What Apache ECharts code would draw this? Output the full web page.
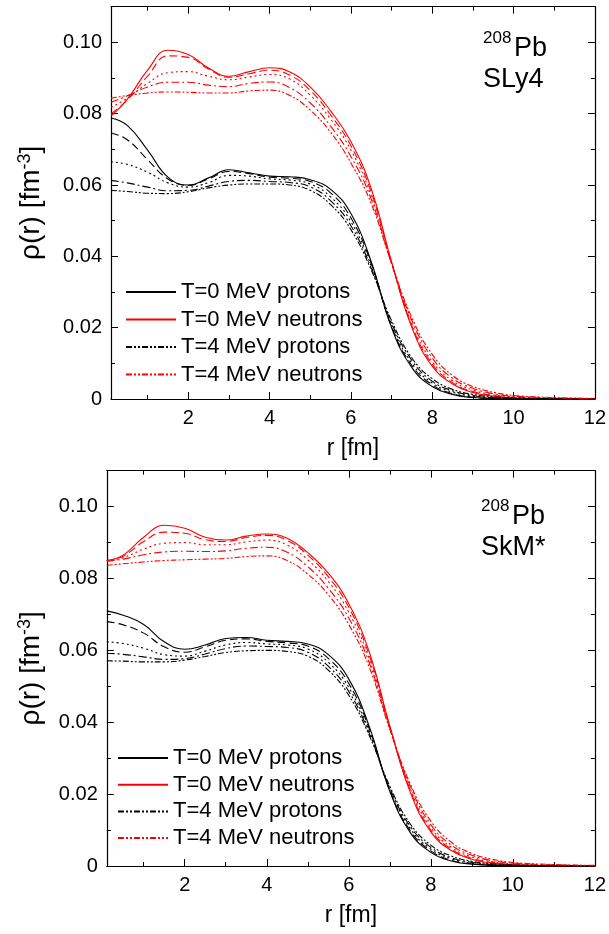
<!DOCTYPE html>
<html>
<head>
<meta charset="utf-8">
<script src="https://cdn.jsdelivr.net/npm/echarts@6/dist/echarts.min.js"></script>
<style>
  html, body { margin: 0; padding: 0; background: #fff; }
  #chart { width: 609px; height: 934px; }
</style>
</head>
<body>
<div id="chart"></div>
<script>
// radial grid (fm)
const r = [0.1, 0.5, 1, 1.5, 2, 2.5, 3, 3.5, 4, 4.5, 5, 5.5, 6, 6.5, 7, 7.5, 8, 8.5, 9, 9.5, 10, 11, 12];

// SLy4 neutrons, T = 0..4 MeV
const sly4N0 = [0.0793, 0.0840, 0.0922, 0.0978, 0.0966, 0.0928, 0.0905, 0.0918, 0.0929, 0.0917, 0.0875, 0.0808, 0.0722, 0.0590, 0.0385, 0.0200, 0.0092, 0.0042, 0.0018, 0.0008, 0.0003, 0.0001, 0.0000];
const sly4N1 = [0.0800, 0.0838, 0.0905, 0.0962, 0.0958, 0.0925, 0.0902, 0.0912, 0.0922, 0.0908, 0.0865, 0.0797, 0.0710, 0.0580, 0.0383, 0.0205, 0.0098, 0.0046, 0.0021, 0.0010, 0.0004, 0.0001, 0.0000];
const sly4N2 = [0.0818, 0.0843, 0.0885, 0.0915, 0.0918, 0.0905, 0.0895, 0.0903, 0.0910, 0.0897, 0.0852, 0.0785, 0.0698, 0.0570, 0.0380, 0.0210, 0.0105, 0.0051, 0.0025, 0.0012, 0.0006, 0.0002, 0.0001];
const sly4N3 = [0.0832, 0.0850, 0.0875, 0.0888, 0.0888, 0.0880, 0.0876, 0.0885, 0.0889, 0.0873, 0.0830, 0.0765, 0.0680, 0.0560, 0.0380, 0.0220, 0.0115, 0.0058, 0.0030, 0.0015, 0.0008, 0.0003, 0.0001];
const sly4N4 = [0.0843, 0.0851, 0.0858, 0.0861, 0.0860, 0.0858, 0.0858, 0.0864, 0.0866, 0.0851, 0.0810, 0.0748, 0.0662, 0.0548, 0.0380, 0.0228, 0.0125, 0.0066, 0.0035, 0.0019, 0.0010, 0.0004, 0.0002];

// SLy4 protons
const sly4P0 = [0.0788, 0.0767, 0.0698, 0.0622, 0.0600, 0.0620, 0.0643, 0.0634, 0.0625, 0.0623, 0.0615, 0.0588, 0.0520, 0.0385, 0.0200, 0.0088, 0.0035, 0.0013, 0.0004, 0.0001, 0.0000, 0.0000, 0.0000];
const sly4P1 = [0.0746, 0.0727, 0.0671, 0.0617, 0.0599, 0.0617, 0.0638, 0.0632, 0.0622, 0.0619, 0.0610, 0.0578, 0.0508, 0.0380, 0.0203, 0.0094, 0.0040, 0.0015, 0.0005, 0.0002, 0.0001, 0.0000, 0.0000];
const sly4P2 = [0.0665, 0.0658, 0.0636, 0.0606, 0.0594, 0.0607, 0.0627, 0.0625, 0.0617, 0.0614, 0.0603, 0.0567, 0.0497, 0.0373, 0.0208, 0.0100, 0.0045, 0.0019, 0.0008, 0.0003, 0.0001, 0.0000, 0.0000];
const sly4P3 = [0.0613, 0.0606, 0.0594, 0.0584, 0.0585, 0.0597, 0.0610, 0.0613, 0.0610, 0.0607, 0.0595, 0.0556, 0.0486, 0.0367, 0.0213, 0.0108, 0.0050, 0.0023, 0.0010, 0.0004, 0.0002, 0.0001, 0.0000];
const sly4P4 = [0.0585, 0.0582, 0.0577, 0.0576, 0.0581, 0.0592, 0.0600, 0.0603, 0.0603, 0.0600, 0.0585, 0.0545, 0.0475, 0.0362, 0.0220, 0.0115, 0.0057, 0.0027, 0.0013, 0.0006, 0.0003, 0.0001, 0.0000];

// SkM* neutrons
const skmN0 = [0.0850, 0.0865, 0.0915, 0.0948, 0.0940, 0.0915, 0.0907, 0.0918, 0.0924, 0.0912, 0.0872, 0.0815, 0.0730, 0.0595, 0.0390, 0.0205, 0.0095, 0.0043, 0.0019, 0.0008, 0.0003, 0.0001, 0.0000];
const skmN1 = [0.0850, 0.0862, 0.0903, 0.0929, 0.0926, 0.0908, 0.0903, 0.0914, 0.0920, 0.0906, 0.0865, 0.0805, 0.0720, 0.0586, 0.0388, 0.0210, 0.0100, 0.0047, 0.0021, 0.0010, 0.0004, 0.0001, 0.0000];
const skmN2 = [0.0850, 0.0858, 0.0882, 0.0898, 0.0900, 0.0894, 0.0894, 0.0902, 0.0907, 0.0893, 0.0852, 0.0792, 0.0706, 0.0576, 0.0385, 0.0215, 0.0107, 0.0052, 0.0025, 0.0012, 0.0006, 0.0002, 0.0001];
const skmN3 = [0.0848, 0.0854, 0.0866, 0.0874, 0.0876, 0.0875, 0.0877, 0.0884, 0.0887, 0.0873, 0.0833, 0.0773, 0.0690, 0.0565, 0.0383, 0.0222, 0.0115, 0.0058, 0.0030, 0.0015, 0.0008, 0.0003, 0.0001];
const skmN4 = [0.0837, 0.0841, 0.0846, 0.0850, 0.0852, 0.0854, 0.0856, 0.0861, 0.0863, 0.0850, 0.0812, 0.0755, 0.0672, 0.0553, 0.0380, 0.0228, 0.0125, 0.0066, 0.0035, 0.0019, 0.0010, 0.0004, 0.0002];

// SkM* protons
const skmP0 = [0.0710, 0.0698, 0.0672, 0.0624, 0.0603, 0.0615, 0.0633, 0.0636, 0.0628, 0.0625, 0.0618, 0.0588, 0.0520, 0.0388, 0.0208, 0.0093, 0.0038, 0.0014, 0.0005, 0.0002, 0.0001, 0.0000, 0.0000];
const skmP1 = [0.0680, 0.0671, 0.0648, 0.0610, 0.0595, 0.0610, 0.0628, 0.0632, 0.0625, 0.0621, 0.0612, 0.0578, 0.0508, 0.0382, 0.0210, 0.0098, 0.0042, 0.0016, 0.0006, 0.0002, 0.0001, 0.0000, 0.0000];
const skmP2 = [0.0624, 0.0619, 0.0606, 0.0588, 0.0584, 0.0598, 0.0615, 0.0622, 0.0618, 0.0615, 0.0604, 0.0567, 0.0497, 0.0375, 0.0213, 0.0104, 0.0047, 0.0020, 0.0008, 0.0003, 0.0001, 0.0000, 0.0000];
const skmP3 = [0.0592, 0.0589, 0.0582, 0.0575, 0.0577, 0.0590, 0.0605, 0.0612, 0.0611, 0.0608, 0.0595, 0.0556, 0.0486, 0.0369, 0.0217, 0.0110, 0.0052, 0.0023, 0.0010, 0.0004, 0.0002, 0.0001, 0.0000];
const skmP4 = [0.0571, 0.0570, 0.0568, 0.0568, 0.0573, 0.0583, 0.0594, 0.0599, 0.0600, 0.0597, 0.0584, 0.0545, 0.0475, 0.0363, 0.0222, 0.0117, 0.0058, 0.0028, 0.0013, 0.0006, 0.0003, 0.0001, 0.0000];

// tick labels
const xMajor = [2, 4, 6, 8, 10, 12];
const xMinor = [1, 3, 5, 7, 9, 11];
const yMajor = [0, 0.02, 0.04, 0.06, 0.08, 0.10];
const yMinor = [0.01, 0.03, 0.05, 0.07, 0.09];

const legendNames = ['T=0 MeV protons', 'T=0 MeV neutrons', 'T=4 MeV protons', 'T=4 MeV neutrons'];

const FONT = '"Liberation Sans", Arial, sans-serif';
const dashes = ['solid', [8, 4], [2, 3], [8, 3, 2, 3], [6, 2, 2, 2, 2, 2]];

const chart = echarts.init(document.getElementById('chart'));

const grids = [
  { left: 111, right: 11.7, top: 6.7, height: 392.3 },
  { left: 106.8, right: 12.3, top: 470.7, height: 395.3 }
];

const axisLine = { show: true, onZero: false, lineStyle: { color: '#000', width: 1.2 } };
const noLine = { show: false, onZero: false };

function xAxes(g) {
  const base = { gridIndex: g, type: 'value', min: 0.1, max: 12, splitLine: { show: false } };
  return [
    {
      ...base, position: 'bottom', axisLine,
      axisTick: { inside: true, length: 7, customValues: xMajor, lineStyle: { color: '#000' } },
      axisLabel: { customValues: xMajor, margin: 9, color: '#000', fontSize: 20, fontFamily: FONT },
      name: 'r [fm]', nameLocation: 'middle', nameGap: 38,
      nameTextStyle: { color: '#000', fontSize: 23, fontFamily: FONT }
    },
    { ...base, position: 'bottom', axisLine: noLine,
      axisTick: { inside: true, length: 4, customValues: xMinor, lineStyle: { color: '#000' } },
      axisLabel: { show: false } },
    { ...base, position: 'top', axisLine,
      axisTick: { inside: true, length: 7, customValues: xMajor, lineStyle: { color: '#000' } },
      axisLabel: { show: false } },
    { ...base, position: 'top', axisLine: noLine,
      axisTick: { inside: true, length: 4, customValues: xMinor, lineStyle: { color: '#000' } },
      axisLabel: { show: false } }
  ];
}

function yAxes(g, gap) {
  const base = { gridIndex: g, type: 'value', min: 0, max: 0.11, splitLine: { show: false } };
  return [
    {
      ...base, position: 'left', axisLine,
      axisTick: { inside: true, length: 7, customValues: yMajor, lineStyle: { color: '#000' } },
      axisLabel: {
        customValues: yMajor, margin: 9, color: '#000', fontSize: 20, fontFamily: FONT,
        formatter: v => (v === 0 ? '0' : v.toFixed(2))
      },
      name: '{a|ρ(r) [fm}{s|-3}{a|]}', nameLocation: 'middle', nameRotate: 90, nameGap: gap,
      nameTextStyle: {
        color: '#000', fontFamily: FONT,
        rich: {
          a: { fontSize: 28, lineHeight: 30, fontFamily: FONT, color: '#000' },
          s: { fontSize: 18, lineHeight: 30, verticalAlign: 'top', fontFamily: FONT, color: '#000' }
        }
      }
    },
    { ...base, position: 'left', axisLine: noLine,
      axisTick: { inside: true, length: 4, customValues: yMinor, lineStyle: { color: '#000' } },
      axisLabel: { show: false } },
    { ...base, position: 'right', axisLine,
      axisTick: { inside: true, length: 7, customValues: yMajor, lineStyle: { color: '#000' } },
      axisLabel: { show: false } },
    { ...base, position: 'right', axisLine: noLine,
      axisTick: { inside: true, length: 4, customValues: yMinor, lineStyle: { color: '#000' } },
      axisLabel: { show: false } }
  ];
}

function curve(name, vals, color, t, g) {
  return {
    name, type: 'line', xAxisIndex: g * 4, yAxisIndex: g * 4,
    data: r.map((x, i) => [x, vals[i]]),
    symbol: 'none', showSymbol: false, smooth: 0.45,
    lineStyle: { color, width: 1.1, type: dashes[t] },
    itemStyle: { color, opacity: 0 },
    silent: true
  };
}

const panels = [
  { n: [sly4N0, sly4N1, sly4N2, sly4N3, sly4N4], p: [sly4P0, sly4P1, sly4P2, sly4P3, sly4P4] },
  { n: [skmN0, skmN1, skmN2, skmN3, skmN4], p: [skmP0, skmP1, skmP2, skmP3, skmP4] }
];

const series = [];
panels.forEach((pan, g) => {
  for (let t = 0; t < 5; t++) {
    series.push(curve('T=' + t + ' MeV protons', pan.p[t], '#000000', t, g));
    series.push(curve('T=' + t + ' MeV neutrons', pan.n[t], '#ff0000', t, g));
  }
});

function legend(left, top, gap) {
  return {
    orient: 'vertical', left, top, padding: 0, itemGap: gap,
    itemWidth: 50, itemHeight: 14, selectedMode: false,
    itemStyle: { opacity: 0 },
    data: legendNames,
    textStyle: { color: '#000', fontSize: 22, lineHeight: 22, fontFamily: FONT }
  };
}

function label(x, y, iso) {
  return [
    { type: 'text', left: x, top: y, style: { text: '208', font: '17px ' + FONT, fill: '#000' } },
    { type: 'text', left: x + 31, top: y + 5, style: { text: 'Pb', font: '27px ' + FONT, fill: '#000' } },
    { type: 'text', left: x, top: y + 36, style: { text: iso, font: '27px ' + FONT, fill: '#000' } }
  ];
}

chart.setOption({
  animation: false,
  backgroundColor: '#fff',
  grid: grids,
  xAxis: [...xAxes(0), ...xAxes(1)],
  yAxis: [...yAxes(0, 65), ...yAxes(1, 61)],
  legend: [legend(125, 281, 5.5), legend(117, 747, 4.7)],
  series,
  graphic: [...label(483, 30, 'SLy4'), ...label(481, 498, 'SkM*')]
});
</script>
</body>
</html>
